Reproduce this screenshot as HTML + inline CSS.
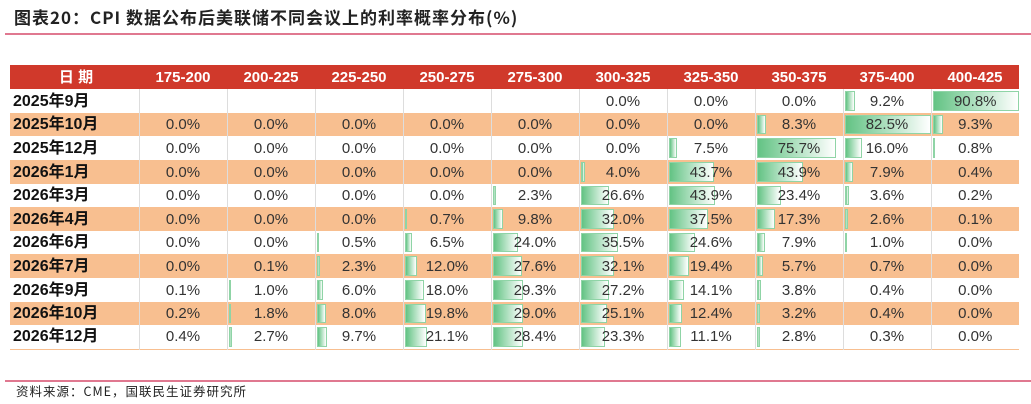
<!DOCTYPE html>
<html><head><meta charset="utf-8"><style>
body{margin:0;width:1031px;height:404px;background:#fff;position:relative;overflow:hidden;font-family:"Liberation Sans","Noto Sans CJK SC",sans-serif}
.t{position:absolute;left:14px;top:4px;font-size:17px;font-weight:bold;color:#222;letter-spacing:1px;font-family:"Noto Sans CJK SC","Liberation Sans",sans-serif}
.l{position:absolute;left:5px;width:1026px;height:2px;background:#e07890}
.s{position:absolute;left:16px;top:381px;font-size:12.5px;color:#222;letter-spacing:1px;font-family:"Noto Sans CJK SC",sans-serif}
table{position:absolute;left:10px;top:65px;border-collapse:collapse;table-layout:fixed}
td{height:23px;padding:0;width:88px;text-align:center;font-size:15px;line-height:17px;color:#333;position:relative;border-left:1px solid #ddd;box-sizing:border-box}
tr.b td{height:24px}
td:first-child{width:129px;text-align:left;padding-left:3px;font-weight:bold;color:#111;font-size:16px;border-left:none}
tr.h td{background:#d0392b;color:#fff;font-weight:bold;font-size:15px;height:24px;border-left:none}
tr.h td:first-child{text-align:center;color:#fff;font-size:15px}
tr.o td{background:#f8bf90}
tr.w td{background:#fff}
td span{position:relative}
i{position:absolute;left:1px;top:2px;bottom:2px;background:linear-gradient(90deg,#63c384,#fff);border:1px solid #8fd4a6;box-sizing:border-box}
</style></head><body>
<div class="t">图表20：CPI 数据公布后美联储不同会议上的利率概率分布(%)</div>
<div class="l" style="top:33px"></div>
<table>
<tr class="h"><td>日 期</td><td>175-200</td><td>200-225</td><td>225-250</td><td>250-275</td><td>275-300</td><td>300-325</td><td>325-350</td><td>350-375</td><td>375-400</td><td>400-425</td></tr>
<tr class="w b"><td>2025年9月</td><td></td><td></td><td></td><td></td><td></td><td><span>0.0%</span></td><td><span>0.0%</span></td><td><span>0.0%</span></td><td><i style="width:10px"></i><span>9.2%</span></td><td><i style="width:86px"></i><span>90.8%</span></td></tr>
<tr class="o"><td>2025年10月</td><td><span>0.0%</span></td><td><span>0.0%</span></td><td><span>0.0%</span></td><td><span>0.0%</span></td><td><span>0.0%</span></td><td><span>0.0%</span></td><td><span>0.0%</span></td><td><i style="width:9px"></i><span>8.3%</span></td><td><i style="width:86px"></i><span>82.5%</span></td><td><i style="width:10px"></i><span>9.3%</span></td></tr>
<tr class="w b"><td>2025年12月</td><td><span>0.0%</span></td><td><span>0.0%</span></td><td><span>0.0%</span></td><td><span>0.0%</span></td><td><span>0.0%</span></td><td><span>0.0%</span></td><td><i style="width:8px"></i><span>7.5%</span></td><td><i style="width:79px"></i><span>75.7%</span></td><td><i style="width:17px"></i><span>16.0%</span></td><td><i style="width:2px"></i><span>0.8%</span></td></tr>
<tr class="o b"><td>2026年1月</td><td><span>0.0%</span></td><td><span>0.0%</span></td><td><span>0.0%</span></td><td><span>0.0%</span></td><td><span>0.0%</span></td><td><i style="width:4px"></i><span>4.0%</span></td><td><i style="width:45px"></i><span>43.7%</span></td><td><i style="width:46px"></i><span>43.9%</span></td><td><i style="width:8px"></i><span>7.9%</span></td><td><span>0.4%</span></td></tr>
<tr class="w"><td>2026年3月</td><td><span>0.0%</span></td><td><span>0.0%</span></td><td><span>0.0%</span></td><td><span>0.0%</span></td><td><i style="width:3px"></i><span>2.3%</span></td><td><i style="width:28px"></i><span>26.6%</span></td><td><i style="width:46px"></i><span>43.9%</span></td><td><i style="width:24px"></i><span>23.4%</span></td><td><i style="width:4px"></i><span>3.6%</span></td><td><span>0.2%</span></td></tr>
<tr class="o b"><td>2026年4月</td><td><span>0.0%</span></td><td><span>0.0%</span></td><td><span>0.0%</span></td><td><i style="width:2px"></i><span>0.7%</span></td><td><i style="width:10px"></i><span>9.8%</span></td><td><i style="width:33px"></i><span>32.0%</span></td><td><i style="width:39px"></i><span>37.5%</span></td><td><i style="width:18px"></i><span>17.3%</span></td><td><i style="width:3px"></i><span>2.6%</span></td><td><span>0.1%</span></td></tr>
<tr class="w"><td>2026年6月</td><td><span>0.0%</span></td><td><span>0.0%</span></td><td><i style="width:2px"></i><span>0.5%</span></td><td><i style="width:7px"></i><span>6.5%</span></td><td><i style="width:25px"></i><span>24.0%</span></td><td><i style="width:37px"></i><span>35.5%</span></td><td><i style="width:26px"></i><span>24.6%</span></td><td><i style="width:8px"></i><span>7.9%</span></td><td><i style="width:1px"></i><span>1.0%</span></td><td><span>0.0%</span></td></tr>
<tr class="o b"><td>2026年7月</td><td><span>0.0%</span></td><td><span>0.1%</span></td><td><i style="width:3px"></i><span>2.3%</span></td><td><i style="width:12px"></i><span>12.0%</span></td><td><i style="width:29px"></i><span>27.6%</span></td><td><i style="width:33px"></i><span>32.1%</span></td><td><i style="width:20px"></i><span>19.4%</span></td><td><i style="width:6px"></i><span>5.7%</span></td><td><span>0.7%</span></td><td><span>0.0%</span></td></tr>
<tr class="w b"><td>2026年9月</td><td><span>0.1%</span></td><td><i style="width:2px"></i><span>1.0%</span></td><td><i style="width:6px"></i><span>6.0%</span></td><td><i style="width:19px"></i><span>18.0%</span></td><td><i style="width:30px"></i><span>29.3%</span></td><td><i style="width:28px"></i><span>27.2%</span></td><td><i style="width:15px"></i><span>14.1%</span></td><td><i style="width:4px"></i><span>3.8%</span></td><td><span>0.4%</span></td><td><span>0.0%</span></td></tr>
<tr class="o"><td>2026年10月</td><td><span>0.2%</span></td><td><i style="width:2px"></i><span>1.8%</span></td><td><i style="width:9px"></i><span>8.0%</span></td><td><i style="width:21px"></i><span>19.8%</span></td><td><i style="width:30px"></i><span>29.0%</span></td><td><i style="width:26px"></i><span>25.1%</span></td><td><i style="width:13px"></i><span>12.4%</span></td><td><i style="width:3px"></i><span>3.2%</span></td><td><span>0.4%</span></td><td><span>0.0%</span></td></tr>
<tr class="w b" style="border-bottom:1px solid #f8bf90"><td>2026年12月</td><td><span>0.4%</span></td><td><i style="width:3px"></i><span>2.7%</span></td><td><i style="width:10px"></i><span>9.7%</span></td><td><i style="width:22px"></i><span>21.1%</span></td><td><i style="width:30px"></i><span>28.4%</span></td><td><i style="width:24px"></i><span>23.3%</span></td><td><i style="width:12px"></i><span>11.1%</span></td><td><i style="width:3px"></i><span>2.8%</span></td><td><span>0.3%</span></td><td><span>0.0%</span></td></tr>
</table>
<div class="l" style="top:380px"></div>
<div class="s">资料来源：CME，国联民生证券研究所</div>
</body></html>
